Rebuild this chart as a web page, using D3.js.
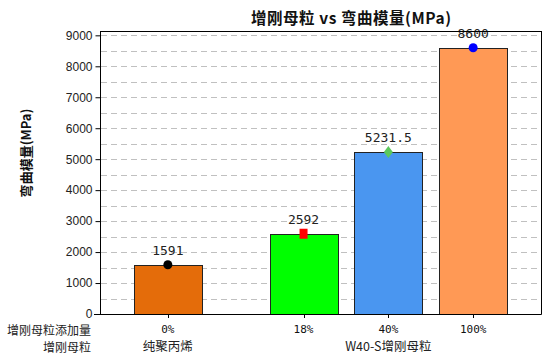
<!DOCTYPE html>
<html>
<head>
<meta charset="utf-8">
<script src="https://cdn.jsdelivr.net/npm/d3@7"></script>
<style>
  html, body { margin: 0; padding: 0; background: #fff; }
  svg { display: block; }
</style>
</head>
<body>
<svg id="chart" width="547" height="358"></svg>
<script>
// ---- data ----
const titleText = "增刚母粒 vs 弯曲模量(MPa)";
const yAxisTitle = "弯曲模量(MPa)";
const rowTitles = ["增刚母粒添加量", "增刚母粒"];
const dosageLabels = ["0%", "18%", "40%", "100%"];
const groupIndex = [0, 1, 1, 1];
const groupLabels = ["纯聚丙烯", "W40-S增刚母粒"];
const modulusValues = [1591, 2592, 5231.5, 8600];
const valueLabels = ["1591", "2592", "5231.5", "8600"];
const yTickValues = [0, 1000, 2000, 3000, 4000, 5000, 6000, 7000, 8000, 9000];
const yGridValues = [500, 1000, 1500, 2000, 2500, 3000, 3500, 4000, 4500, 5000, 5500, 6000, 6500, 7000, 7500, 8000, 8500, 9000];
const yMax = 9140;
const barColors = ["#e46c0a", "#00ff00", "#4a96f0", "#ff9955"];
const markerColors = ["#000000", "#ff0000", "#5cc85c", "#0000ff"];
const markerShapes = ["circle", "square", "diamond", "circle"];

// ---- layout ----
const plot = { left: 100, right: 541, top: 31, bottom: 314 };
const groupGap = 0.6;
const barUnits = 0.8;

const svg = d3.select("#chart");

const slot = (i) => i + 1 + groupGap * groupIndex[i];
const x = d3.scaleLinear().domain([0.2, 5.4]).range([plot.left, plot.right]);
const y = d3.scaleLinear().domain([0, yMax]).range([plot.bottom, plot.top]);
const barW = x(barUnits) - x(0);

// grid lines
svg.append("g").selectAll("line").data(yGridValues).join("line")
  .attr("x1", plot.left + 1).attr("x2", plot.right - 1)
  .attr("y1", d => Math.round(y(d)) + 0.5).attr("y2", d => Math.round(y(d)) + 0.5)
  .attr("stroke", "#c0c0c0").attr("stroke-width", 1)
  .attr("stroke-dasharray", "6,4");

// bars
const idx = d3.range(modulusValues.length);
svg.append("g").selectAll("rect").data(idx).join("rect")
  .attr("x", i => Math.round(x(slot(i)) - barW / 2) + 0.5)
  .attr("y", i => Math.round(y(modulusValues[i])) + 0.5)
  .attr("width", Math.round(barW))
  .attr("height", i => Math.round(y(0)) - Math.round(y(modulusValues[i])))
  .attr("fill", i => barColors[i])
  .attr("stroke", "#222").attr("stroke-width", 1);

// markers
const mk = svg.append("g");
idx.forEach(i => {
  const cx = x(slot(i)), cy = y(modulusValues[i]);
  const s = markerShapes[i], c = markerColors[i];
  if (s === "circle") {
    mk.append("circle").attr("cx", cx).attr("cy", cy).attr("r", 4.5).attr("fill", c);
  } else if (s === "square") {
    mk.append("rect").attr("x", cx - 4).attr("y", cy - 5).attr("width", 8).attr("height", 10).attr("fill", c);
  } else if (s === "diamond") {
    mk.append("path").attr("d", `M${cx},${cy - 6}L${cx + 4.5},${cy}L${cx},${cy + 6}L${cx - 4.5},${cy}Z`).attr("fill", c);
  }
});

// value labels
svg.append("g").selectAll("text").data(idx).join("text")
  .attr("x", i => x(slot(i)))
  .attr("y", i => y(modulusValues[i]) - 10)
  .attr("text-anchor", "middle")
  .attr("font-family", "'DejaVu Sans Mono', monospace")
  .attr("font-size", 13)
  .attr("fill", "#222")
  .text(i => valueLabels[i]);

// frame: top and right
svg.append("line").attr("x1", plot.left).attr("x2", plot.right + 0.5)
  .attr("y1", plot.top + 0.5).attr("y2", plot.top + 0.5).attr("stroke", "#000");
svg.append("line").attr("x1", plot.right + 0.5).attr("x2", plot.right + 0.5)
  .attr("y1", plot.top).attr("y2", plot.bottom + 0.5).attr("stroke", "#000");

// y axis
const yAxis = d3.axisLeft(y).tickValues(yTickValues).tickSize(5).tickPadding(3).tickFormat(d3.format("d"));
const gy = svg.append("g").attr("transform", `translate(${plot.left + 0.5},0)`).call(yAxis);
gy.select(".domain").attr("d", `M0,${plot.top}V${plot.bottom + 0.5}`).attr("stroke", "#000");
gy.selectAll(".tick line").attr("stroke", "#000");
gy.selectAll(".tick text").attr("font-family", "'Liberation Sans', Arial, sans-serif")
  .attr("font-size", 12).attr("fill", "#222");

// x axis (bottom line + ticks)
svg.append("line").attr("x1", plot.left - 6).attr("x2", plot.right + 0.5)
  .attr("y1", plot.bottom + 0.5).attr("y2", plot.bottom + 0.5).attr("stroke", "#000");
svg.append("g").selectAll("line").data(idx).join("line")
  .attr("x1", i => Math.round(x(slot(i))) + 0.5).attr("x2", i => Math.round(x(slot(i))) + 0.5)
  .attr("y1", plot.bottom + 1).attr("y2", plot.bottom + 4).attr("stroke", "#000");

// dosage labels
svg.append("g").selectAll("text").data(idx).join("text")
  .attr("x", i => x(slot(i)))
  .attr("y", 333)
  .attr("text-anchor", "middle")
  .attr("font-family", "'DejaVu Sans Mono', monospace")
  .attr("font-size", 11)
  .attr("fill", "#111")
  .text(i => dosageLabels[i]);

// group labels centred under their bars
groupLabels.forEach((g, gi) => {
  const members = idx.filter(i => groupIndex[i] === gi);
  const cx = d3.mean(members, i => x(slot(i)));
  svg.append("text").attr("x", cx).attr("y", 351)
    .attr("text-anchor", "middle")
    .attr("font-family", "'Noto Sans CJK SC', sans-serif")
    .attr("font-size", 12.5).attr("fill", "#222")
    .text(g);
});

// row titles
rowTitles.forEach((t, r) => {
  svg.append("text").attr("x", 91).attr("y", r === 0 ? 335 : 352)
    .attr("text-anchor", "end")
    .attr("font-family", "'Noto Sans CJK SC', sans-serif")
    .attr("font-size", 12).attr("fill", "#222")
    .text(t);
});

// title
svg.append("text").attr("x", 351).attr("y", 24)
  .attr("text-anchor", "middle")
  .attr("font-family", "'Noto Sans CJK SC', sans-serif")
  .attr("font-size", 15.5).attr("font-weight", "bold").attr("fill", "#111")
  .attr("textLength", 200).attr("lengthAdjust", "spacing")
  .text(titleText);

// y axis title
svg.append("text")
  .attr("transform", "translate(31,153) rotate(-90)")
  .attr("text-anchor", "middle")
  .attr("font-family", "'Noto Sans CJK SC', sans-serif")
  .attr("font-size", 13).attr("font-weight", "bold").attr("fill", "#111")
  .text(yAxisTitle);
</script>
</body>
</html>
